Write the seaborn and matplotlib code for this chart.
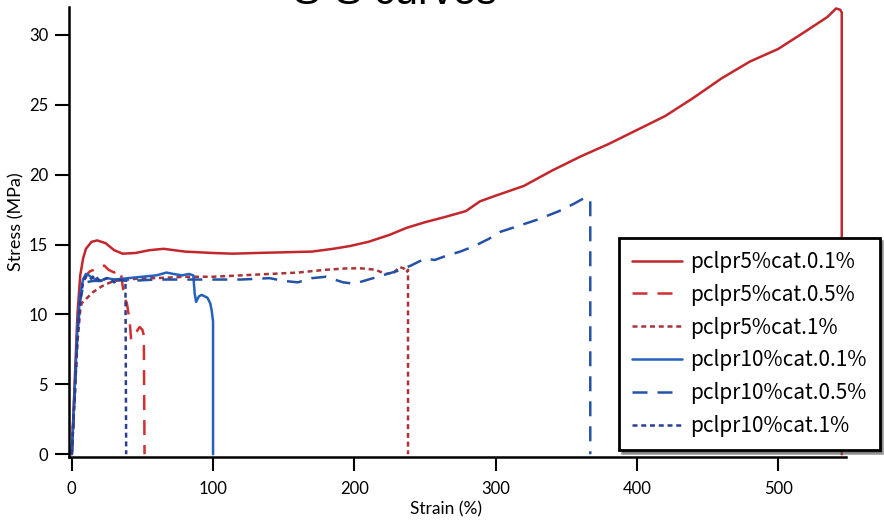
import matplotlib
matplotlib.use("Agg")
import matplotlib.pyplot as plt
import seaborn as sns
import pandas as pd

sns.set_style("ticks")
plt.rcParams['font.family'] = ['Lato', 'DejaVu Sans']
plt.rcParams['text.color'] = 'black'
plt.rcParams['axes.labelcolor'] = 'black'
plt.rcParams['xtick.color'] = 'black'
plt.rcParams['ytick.color'] = 'black'
plt.rcParams['axes.edgecolor'] = 'black'

# ------------------------------
# stress-strain data
# ------------------------------
labels = ["pclpr5%cat.0.1%", "pclpr5%cat.0.5%", "pclpr5%cat.1%",
          "pclpr10%cat.0.1%", "pclpr10%cat.0.5%", "pclpr10%cat.1%"]

strain_5_01 = [0, 2, 4, 6, 8, 10, 14, 18, 24, 30, 36, 45, 55, 65, 80, 100, 114, 130, 150,
               170, 185, 197, 210, 225, 237, 250, 265, 279, 289, 300, 320, 340, 360, 380,
               400, 420, 440, 460, 480, 500, 520, 535, 541, 544, 545, 545]
stress_5_01 = [0, 5, 10, 12.8, 14, 14.7, 15.2, 15.3, 15.1, 14.6, 14.35, 14.4, 14.6, 14.7,
               14.5, 14.4, 14.35, 14.4, 14.45, 14.5, 14.7, 14.9, 15.2, 15.7, 16.2, 16.6,
               17.0, 17.4, 18.1, 18.5, 19.2, 20.3, 21.3, 22.2, 23.2, 24.2, 25.5, 26.9,
               28.1, 29.0, 30.3, 31.3, 31.9, 31.8, 31.6, 0]

strain_5_05 = [0, 2, 4, 6, 8, 10, 13, 16, 20, 23, 26, 30, 33, 35, 37, 39, 41, 42, 44, 46,
               48, 50, 51, 51.5]
stress_5_05 = [0, 4.5, 9, 11.5, 12.5, 12.8, 13.1, 13.2, 13.4, 13.5, 13.2, 13.0, 13.2, 12.8,
               11.3, 10.8, 9.5, 8.2, 8.6, 8.8, 9.1, 8.9, 8.5, 0]

strain_5_1 = [0, 2, 4, 6, 7, 9, 12, 15, 18, 21, 25, 30, 40, 50, 60, 80, 100, 120, 140, 160,
              180, 195, 205, 215, 222, 228, 232, 235, 237, 238, 238]
stress_5_1 = [0, 4, 8, 10.3, 10.8, 11.0, 11.3, 11.6, 11.8, 12.0, 12.2, 12.4, 12.5, 12.6,
              12.6, 12.7, 12.7, 12.8, 12.9, 13.0, 13.2, 13.3, 13.3, 13.2, 12.9, 13.0, 13.4,
              13.3, 13.0, 13.2, 0]

strain_10_01 = [0, 2, 4, 6, 8, 10, 12, 15, 20, 25, 30, 40, 50, 60, 67, 72, 78, 83, 86, 87,
                88, 90, 92, 94, 96, 98, 99, 100, 100]
stress_10_01 = [0, 4.5, 9, 11.5, 12.5, 12.9, 12.8, 12.6, 12.4, 12.6, 12.5, 12.6, 12.7, 12.8,
                13.0, 12.9, 12.8, 12.9, 12.8, 11.5, 10.9, 11.3, 11.4, 11.3, 11.2, 10.8,
                10.3, 9.5, 0]

strain_10_05 = [0, 2, 4, 6, 8, 10, 15, 20, 30, 40, 60, 80, 100, 120, 140, 150, 160, 170,
                180, 192, 200, 210, 220, 230, 240, 250, 257, 265, 275, 285, 295, 303, 315,
                330, 345, 355, 364, 366, 367, 367]
stress_10_05 = [0, 4, 8.5, 11, 12, 12.3, 12.4, 12.4, 12.5, 12.4, 12.5, 12.5, 12.5, 12.5,
                12.6, 12.4, 12.3, 12.6, 12.7, 12.3, 12.2, 12.5, 12.8, 13.1, 13.5, 14.0,
                13.9, 14.2, 14.5, 14.9, 15.4, 15.9, 16.3, 16.8, 17.4, 17.9, 18.4, 18.3,
                18.2, 0]

strain_10_1 = [0, 2, 4, 6, 8, 10, 13, 16, 20, 25, 30, 34, 37, 38, 38.5]
stress_10_1 = [0, 4, 8.5, 11, 12.3, 12.7, 12.5, 12.8, 12.4, 12.6, 12.3, 12.5, 12.4, 12.2, 0]

strains = [strain_5_01, strain_5_05, strain_5_1, strain_10_01, strain_10_05, strain_10_1]
stresses = [stress_5_01, stress_5_05, stress_5_1, stress_10_01, stress_10_05, stress_10_1]

colors = ["#c3262b", "#d22f33", "#a8343a", "#2461c0", "#2452a6", "#2b3e92"]
dashes = ["-", (0, (6, 4)), (0, (2, 1.5)), "-", (0, (6, 4)), (0, (2, 1.5))]

fig = plt.figure(figsize=(8.84, 5.22), dpi=100)
ax = fig.add_axes([0.078, 0.1245, 0.879, 0.862])

for lab, xs, ys, c, ls in zip(labels, strains, stresses, colors, dashes):
    df = pd.DataFrame({"Strain": xs, "Stress": ys})
    sns.lineplot(data=df, x="Strain", y="Stress", sort=False, estimator=None,
                 color=c, linestyle=ls, linewidth=1.8, label=lab, ax=ax)

ax.set_xlim(-2, 548)
ax.set_ylim(-0.2, 32)
ax.set_xticks([0, 100, 200, 300, 400, 500])
ax.set_yticks([0, 5, 10, 15, 20, 25, 30])
ax.set_xlabel("Strain (%)", fontsize=12.5)
ax.set_ylabel("Stress (MPa)", fontsize=13)
ax.xaxis.set_label_coords(0.485, -0.098)
ax.yaxis.set_label_coords(-0.057, 0.522)
ax.tick_params(axis="x", labelsize=12, length=10, width=1.5, pad=7)
ax.tick_params(axis="y", labelsize=12, length=10, width=1.5, pad=5)
for side in ["top", "right"]:
    ax.spines[side].set_visible(False)
for side in ["left", "bottom"]:
    ax.spines[side].set_linewidth(1.8)

leg = ax.legend(loc="upper left", bbox_to_anchor=(619 / 884, 1 - 238 / 522),
                bbox_transform=fig.transFigure, borderaxespad=0, frameon=True,
                fancybox=False, shadow=True, handlelength=2.4, handletextpad=0.4,
                labelspacing=0.52, borderpad=0.62,
                prop={"family": ["Noto Sans CJK JP", "DejaVu Sans"], "size": 15})
leg.get_frame().set_edgecolor("black")
leg.get_frame().set_linewidth(2)

fig.text(395 / 884, 1 - 4 / 522, "S-S curves", ha="center", va="baseline",
         fontsize=30, family=["Liberation Sans", "DejaVu Sans"])

plt.savefig("out.png", dpi=100)
